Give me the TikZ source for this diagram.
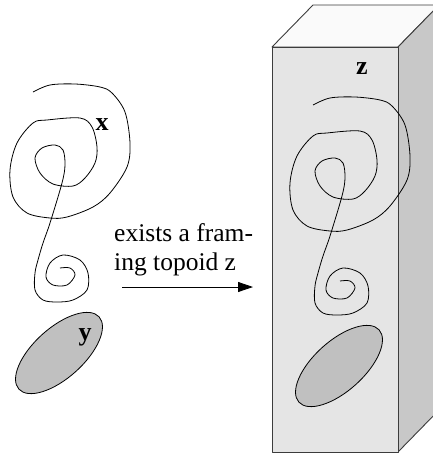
\documentclass[tikz,border=0pt]{standalone}
\usepackage{fontspec}
\setmainfont{Liberation Serif}
\usetikzlibrary{arrows.meta}
\definecolor{frontgray}{RGB}{229,229,229}
\definecolor{sidegray}{RGB}{200,200,200}
\definecolor{topgray}{RGB}{250,250,250}
\definecolor{blobgray}{RGB}{192,192,192}
\definecolor{edgegray}{RGB}{60,60,60}
\tikzset{
  curve/.style={draw=black, line width=0.8pt, line join=round},
  boxface/.style={draw=edgegray, line width=0.9pt, line join=round},
  lbl/.style={font=\fontsize{26}{26}\selectfont\bfseries, inner sep=0pt, anchor=base},
  figure/.pic={
    \draw[curve] plot[smooth, tension=0.55] coordinates {
      (33,92) (50,85) (75,84) (100,87) (112,93) (125,112) (130,143) (127,167)
      (110,193) (93,207) (67,217) (50,218) (27,213) (13,197) (10,170) (17,143)
      (33,123) (47,120) (80,118) (92,127) (97,147) (95,163) (85,178) (73,186)
      (53,184) (40,173) (35,158) (42,148) (55,145) (63,150) (65,165) (62,183)
      (50,223) (43,243) (38,260) (35,273) (35,290) (43,300) (57,302) (73,300)
      (87,290) (88,273) (80,260) (63,255) (50,263) (46,277) (53,285) (67,285)
      (75,275) (70,268) (60,268)};
    \draw[curve, fill=blobgray, rotate around={42:(59,353)}]
      (59,353) ellipse [x radius=54, y radius=25];
  }
}
\begin{document}
\begin{tikzpicture}[x=1pt, y=-1pt]
  \useasboundingbox (0,0) rectangle (433,453);
  \clip (0,0) rectangle (433,453);
  % box
  \coordinate (f1) at (272,47);
  \coordinate (f2) at (398,47);
  \coordinate (f3) at (398,452);
  \coordinate (f4) at (272,452);
  \coordinate (b1) at (313,5);
  \coordinate (b2) at (439,5);
  \coordinate (b3) at (439,410);
  \draw[boxface, fill=topgray] (f1) -- (b1) -- (b2) -- (f2) -- cycle;
  \draw[boxface, fill=sidegray] (f2) -- (b2) -- (b3) -- (f3) -- cycle;
  \draw[boxface, fill=frontgray] (f1) -- (f2) -- (f3) -- (f4) -- cycle;
  % figures
  \pic (left) at (0,0) {figure};
  \pic (right) at (280,13) {figure};
  % labels
  \node[lbl] (lx) at (102,130) {x};
  \node[lbl] (ly) at (85,340) {y};
  \node[lbl] (lz) at (362,74) {z};
  \node[font=\fontsize{25.5}{29}\selectfont, align=left, anchor=base west, inner sep=0pt]
    (txt) at (114,270) {exists a fram-\\ing topoid z};
  \coordinate (a1) at (122,287);
  \coordinate (a2) at (253,287);
  \draw[line width=0.8pt, -{Triangle[length=15pt, width=10pt]}] (a1) -- (a2);
\end{tikzpicture}
\end{document}
